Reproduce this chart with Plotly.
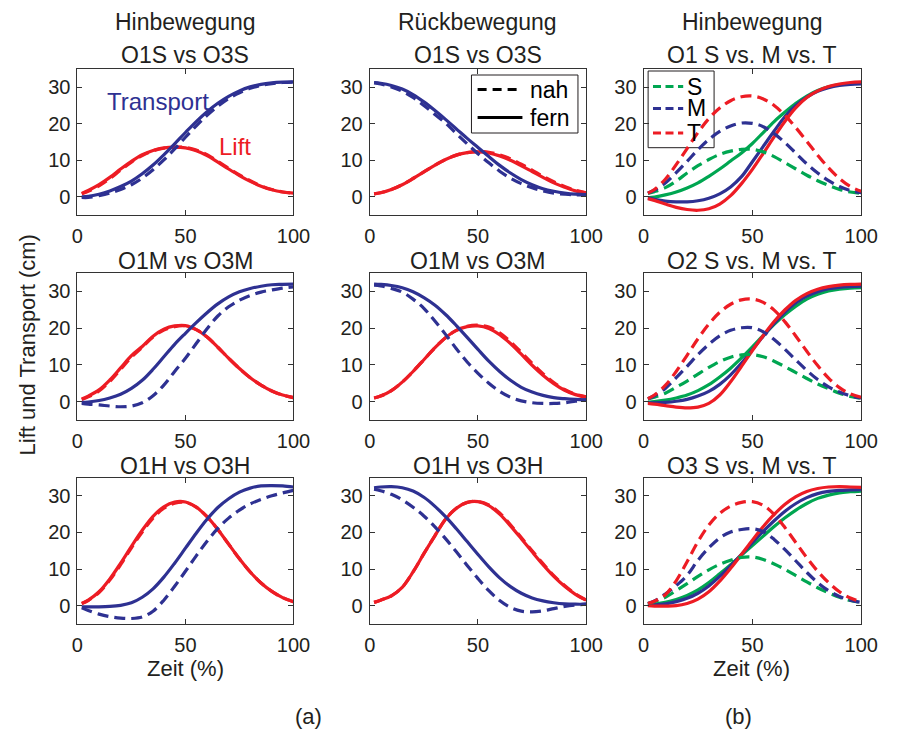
import plotly.graph_objects as go

# Normalised movement time (%)
zeit = [2, 5, 10, 15, 20, 25, 30, 35, 40, 45, 50, 55, 60, 65, 70, 75, 80, 85, 90, 95, 100]

# ---- (a) Hinbewegung / Rückbewegung, nah (dashed) vs fern (solid) ----
# O1S vs O3S, Hinbewegung
hin_s_lift_fern = [0.9, 1.7, 3.3, 5.3, 7.6, 9.7, 11.5, 12.7, 13.4, 13.6, 13.4, 12.6, 11.3, 9.5, 7.6, 5.8, 4.2, 2.9, 1.9, 1.3, 1.0]
hin_s_lift_nah = [0.8, 1.5, 3.0, 5.0, 7.3, 9.5, 11.3, 12.6, 13.3, 13.6, 13.5, 12.8, 11.5, 9.7, 7.8, 6.0, 4.4, 3.0, 2.0, 1.3, 1.0]
hin_s_trans_fern = [0.0, 0.1, 0.7, 1.6, 2.8, 4.3, 6.3, 8.7, 11.5, 14.5, 17.6, 20.6, 23.3, 25.6, 27.5, 29.0, 30.1, 30.8, 31.2, 31.4, 31.5]
hin_s_trans_nah = [-0.2, -0.2, 0.3, 1.0, 2.0, 3.3, 5.1, 7.4, 10.1, 13.1, 16.3, 19.4, 22.3, 24.8, 26.9, 28.5, 29.7, 30.5, 31.0, 31.3, 31.4]

# O1S vs O3S, Rückbewegung
rueck_s_lift_fern = [0.8, 1.1, 2.0, 3.3, 5.0, 6.8, 8.6, 10.2, 11.4, 12.1, 12.3, 12.0, 11.2, 10.0, 8.5, 6.9, 5.3, 3.8, 2.6, 1.6, 1.0]
rueck_s_lift_nah = [0.8, 1.1, 2.0, 3.3, 5.0, 6.8, 8.6, 10.2, 11.4, 12.1, 12.4, 12.2, 11.5, 10.4, 8.9, 7.3, 5.6, 4.1, 2.8, 1.8, 1.1]
rueck_s_trans_fern = [31.3, 31.1, 30.5, 29.5, 28.0, 26.0, 23.7, 21.2, 18.6, 16.0, 13.5, 11.0, 8.6, 6.5, 4.7, 3.3, 2.2, 1.5, 1.0, 0.7, 0.6]
rueck_s_trans_nah = [31.2, 30.9, 30.1, 28.9, 27.2, 25.0, 22.6, 20.2, 17.3, 14.5, 11.8, 9.3, 7.0, 5.1, 3.6, 2.5, 1.6, 1.0, 0.7, 0.5, 0.5]

# O1M vs O3M, Hinbewegung
hin_m_lift_fern = [0.7, 1.5, 3.2, 5.9, 9.2, 12.5, 15.0, 17.8, 19.7, 20.6, 20.7, 19.6, 17.6, 14.8, 11.8, 9.0, 6.5, 4.5, 2.9, 1.8, 1.1]
hin_m_lift_nah = [0.6, 1.3, 2.9, 5.5, 8.8, 12.1, 14.8, 17.6, 19.5, 20.4, 20.6, 19.6, 17.6, 14.8, 11.8, 9.0, 6.5, 4.5, 2.9, 1.8, 1.1]
hin_m_trans_fern = [-0.2, -0.1, 0.3, 1.0, 2.0, 3.6, 5.8, 8.8, 12.2, 15.6, 18.6, 21.5, 24.2, 26.6, 28.5, 29.9, 30.8, 31.4, 31.8, 31.9, 32.0]
hin_m_trans_nah = [-0.5, -0.7, -0.9, -1.2, -1.4, -1.2, -0.3, 1.6, 4.5, 8.2, 11.8, 15.8, 19.8, 23.3, 25.8, 27.6, 28.9, 29.8, 30.4, 30.9, 31.2]

# O1M vs O3M, Rückbewegung
rueck_m_lift_fern = [1.0, 1.5, 3.0, 5.3, 8.2, 11.4, 14.6, 17.4, 19.4, 20.4, 20.6, 19.9, 18.2, 15.8, 12.9, 9.9, 7.2, 4.9, 3.1, 1.9, 1.2]
rueck_m_lift_nah = [1.0, 1.5, 3.0, 5.3, 8.2, 11.4, 14.6, 17.4, 19.4, 20.5, 20.8, 20.3, 18.7, 16.3, 13.4, 10.4, 7.6, 5.2, 3.3, 2.0, 1.3]
rueck_m_trans_fern = [32.0, 31.9, 31.6, 31.0, 29.9, 28.3, 26.3, 23.7, 20.7, 17.5, 14.2, 11.0, 8.2, 5.8, 3.9, 2.6, 1.7, 1.1, 0.8, 0.6, 0.5]
rueck_m_trans_nah = [31.7, 31.5, 30.8, 29.8, 27.9, 25.4, 22.0, 18.3, 14.4, 10.8, 7.7, 5.0, 2.8, 1.2, 0.2, -0.3, -0.5, -0.5, -0.3, 0.1, 0.5]

# O1H vs O3H, Hinbewegung
hin_h_lift_fern = [0.6, 1.5, 3.8, 7.3, 11.6, 16.2, 20.6, 24.4, 27.0, 28.3, 28.3, 26.9, 24.3, 20.8, 16.8, 12.8, 9.2, 6.2, 3.9, 2.2, 1.1]
hin_h_lift_nah = [0.6, 1.4, 3.6, 7.0, 11.2, 15.8, 20.1, 23.9, 26.6, 28.0, 28.2, 26.9, 24.3, 20.8, 16.8, 12.8, 9.2, 6.2, 3.9, 2.2, 1.1]
hin_h_trans_fern = [-0.3, -0.3, -0.3, -0.2, 0.1, 0.8, 2.3, 4.6, 7.8, 11.6, 15.7, 19.8, 23.6, 26.8, 29.2, 31.0, 32.1, 32.7, 32.8, 32.7, 32.4]
hin_h_trans_nah = [-0.6, -1.3, -2.3, -3.0, -3.4, -3.5, -3.1, -1.5, 1.5, 5.3, 9.4, 13.6, 17.6, 21.1, 23.9, 26.1, 27.8, 29.0, 30.0, 30.8, 31.5]

# O1H vs O3H, Rückbewegung
rueck_h_lift_fern = [0.9, 1.5, 2.7, 5.0, 9.2, 14.2, 19.0, 23.6, 26.6, 28.2, 28.4, 27.3, 25.0, 21.8, 18.3, 14.7, 11.2, 8.0, 5.3, 3.1, 1.5]
rueck_h_lift_nah = [0.9, 1.5, 2.7, 5.0, 9.2, 14.2, 19.0, 23.6, 26.6, 28.2, 28.5, 27.5, 25.3, 22.1, 18.6, 15.0, 11.5, 8.2, 5.5, 3.2, 1.5]
rueck_h_trans_fern = [32.2, 32.4, 32.5, 32.2, 31.3, 29.6, 27.2, 24.3, 21.0, 17.5, 14.0, 10.6, 7.6, 5.2, 3.4, 2.1, 1.3, 0.8, 0.5, 0.4, 0.4]
rueck_h_trans_nah = [31.8, 31.4, 30.4, 28.9, 26.9, 24.5, 21.6, 18.3, 14.7, 11.0, 7.4, 4.1, 1.4, -0.5, -1.5, -1.7, -1.4, -0.8, -0.2, 0.2, 0.4]

# ---- (b) Hinbewegung, S vs M vs T (dashed = Lift, solid = Transport) ----
o1_lift_s = [0.9, 1.4, 2.5, 4.3, 6.5, 8.5, 10.2, 11.6, 12.5, 13.0, 13.0, 12.3, 11.0, 9.3, 7.6, 5.9, 4.4, 3.1, 2.0, 1.3, 0.9]
o1_lift_m = [1.0, 1.8, 3.8, 6.6, 9.7, 12.9, 15.7, 17.9, 19.4, 20.2, 20.1, 19.2, 17.3, 14.8, 11.9, 9.0, 6.5, 4.4, 2.8, 1.7, 1.1]
o1_lift_t = [1.0, 2.0, 4.8, 8.8, 13.2, 17.6, 21.4, 24.3, 26.3, 27.4, 27.6, 26.8, 25.0, 22.3, 18.9, 15.2, 11.4, 7.9, 5.0, 2.8, 1.5]
o1_trans_s = [-0.3, -0.1, 0.5, 1.3, 2.4, 3.8, 5.6, 7.6, 9.8, 12.0, 14.6, 17.6, 20.6, 23.2, 25.6, 27.6, 29.1, 30.1, 30.7, 31.0, 31.2]
o1_trans_m = [-0.3, -0.7, -1.2, -1.4, -1.4, -1.1, -0.4, 0.8, 2.7, 5.5, 9.6, 13.8, 18.0, 22.0, 25.0, 27.3, 28.9, 29.9, 30.5, 30.8, 30.9]
o1_trans_t = [-0.5, -1.0, -2.0, -2.9, -3.5, -3.7, -3.3, -2.0, 0.3, 3.6, 7.5, 11.9, 16.4, 20.7, 24.4, 27.2, 29.0, 30.2, 30.9, 31.3, 31.5]

o2_lift_s = [0.7, 1.2, 2.3, 3.9, 5.6, 7.5, 9.3, 10.9, 12.1, 12.7, 12.8, 12.2, 11.0, 9.5, 7.9, 6.3, 4.8, 3.5, 2.3, 1.4, 0.9]
o2_lift_m = [0.8, 1.6, 3.6, 6.5, 9.6, 12.8, 15.6, 17.9, 19.4, 20.1, 20.1, 19.0, 16.9, 14.2, 11.3, 8.5, 6.0, 4.0, 2.6, 1.6, 1.0]
o2_lift_t = [0.8, 1.8, 4.4, 8.2, 12.6, 17.1, 21.1, 24.3, 26.5, 27.7, 27.9, 27.0, 24.9, 21.7, 17.8, 13.7, 9.8, 6.4, 3.8, 2.1, 1.2]
o2_trans_s = [-0.2, 0.0, 0.4, 1.0, 1.8, 3.0, 4.6, 6.7, 9.1, 11.9, 14.9, 18.0, 21.0, 23.7, 26.0, 27.9, 29.2, 30.1, 30.6, 30.9, 31.0]
o2_trans_m = [-0.3, -0.3, -0.2, 0.1, 0.6, 1.5, 2.8, 4.7, 7.3, 10.5, 14.1, 17.8, 21.3, 24.4, 26.9, 28.7, 29.9, 30.7, 31.1, 31.3, 31.4]
o2_trans_t = [-0.5, -0.7, -1.1, -1.5, -1.7, -1.5, -0.5, 1.8, 5.4, 9.6, 13.9, 18.0, 21.8, 25.0, 27.6, 29.4, 30.6, 31.3, 31.7, 31.9, 32.0]

o3_lift_s = [0.6, 1.1, 2.3, 4.1, 6.0, 8.0, 9.8, 11.3, 12.4, 13.2, 13.3, 12.6, 11.4, 9.9, 8.2, 6.5, 4.9, 3.5, 2.3, 1.4, 0.9]
o3_lift_m = [0.6, 1.3, 3.2, 5.5, 8.3, 12.4, 15.8, 18.5, 20.1, 20.8, 21.0, 20.2, 18.1, 15.3, 12.2, 9.1, 6.3, 4.1, 2.5, 1.5, 0.9]
o3_lift_t = [0.6, 1.2, 3.0, 6.8, 12.0, 17.5, 22.0, 25.2, 27.2, 28.2, 28.4, 27.4, 24.9, 21.3, 17.2, 13.1, 9.4, 6.3, 3.8, 2.1, 1.1]
o3_trans_s = [0.2, 0.4, 0.9, 1.7, 2.8, 4.3, 6.3, 8.7, 11.2, 13.8, 16.4, 19.0, 21.6, 24.0, 26.1, 27.9, 29.3, 30.2, 30.8, 31.1, 31.3]
o3_trans_m = [0.1, 0.2, 0.5, 1.1, 2.0, 3.4, 5.4, 8.0, 10.9, 14.0, 17.2, 20.3, 23.2, 25.8, 27.9, 29.5, 30.6, 31.2, 31.5, 31.6, 31.7]
o3_trans_t = [0.0, -0.1, -0.1, 0.0, 0.6, 1.8, 3.8, 6.7, 10.2, 14.0, 17.9, 21.6, 24.9, 27.7, 29.8, 31.2, 32.0, 32.4, 32.5, 32.4, 32.3]

# Panel titles (row by row)
col_heads = ["Hinbewegung", "Rückbewegung", "Hinbewegung"]
panel_titles = ["O1S vs O3S", "O1S vs O3S", "O1 S vs. M vs. T",
                "O1M vs O3M", "O1M vs O3M", "O2 S vs. M vs. T",
                "O1H vs O3H", "O1H vs O3H", "O3 S vs. M vs. T"]
x_ticks = [0, 50, 100]
y_ticks = [0, 10, 20, 30]
style_labels = ["nah", "fern"]
group_labels = ["S", "M", "T"]

BLUE = "#2E3192"
RED = "#ED1C24"
GREEN = "#00A651"
INK = "#231F20"
FONT = "Liberation Sans, Arial, sans-serif"
DASH = "11px,6px"        # dashed curves
DASH_KEY = "8px,4.5px"   # dashed legend samples
LW = 3.2

W, H = 898, 731
col_px = [(73.3, 295.0), (373.3, 595.5), (654.3, 877.7)]
row_px = [(69.0, 215.0), (273.0, 420.0), (477.5, 624.0)]

fig = go.Figure()

nah_fern_panels = {
    1: (hin_s_lift_fern, hin_s_lift_nah, hin_s_trans_fern, hin_s_trans_nah),
    2: (rueck_s_lift_fern, rueck_s_lift_nah, rueck_s_trans_fern, rueck_s_trans_nah),
    4: (hin_m_lift_fern, hin_m_lift_nah, hin_m_trans_fern, hin_m_trans_nah),
    5: (rueck_m_lift_fern, rueck_m_lift_nah, rueck_m_trans_fern, rueck_m_trans_nah),
    7: (hin_h_lift_fern, hin_h_lift_nah, hin_h_trans_fern, hin_h_trans_nah),
    8: (rueck_h_lift_fern, rueck_h_lift_nah, rueck_h_trans_fern, rueck_h_trans_nah),
}
smt_panels = {
    3: (o1_lift_s, o1_lift_m, o1_lift_t, o1_trans_s, o1_trans_m, o1_trans_t),
    6: (o2_lift_s, o2_lift_m, o2_lift_t, o2_trans_s, o2_trans_m, o2_trans_t),
    9: (o3_lift_s, o3_lift_m, o3_lift_t, o3_trans_s, o3_trans_m, o3_trans_t),
}


def sfx(idx):
    return "" if idx == 1 else str(idx)


def add_line(idx, y, color, dash):
    fig.add_trace(go.Scatter(
        x=zeit, y=y, mode="lines", showlegend=False, hoverinfo="skip",
        line=dict(color=color, width=LW, dash=dash, shape="spline", smoothing=1.0),
        xaxis="x" + sfx(idx), yaxis="y" + sfx(idx)))


for idx, (lf, ln, tf, tn) in nah_fern_panels.items():
    add_line(idx, ln, RED, DASH)
    add_line(idx, lf, RED, "solid")
    add_line(idx, tn, BLUE, DASH)
    add_line(idx, tf, BLUE, "solid")

for idx, (ls, lm, lt, ts, tm, tt) in smt_panels.items():
    add_line(idx, ts, GREEN, "solid")
    add_line(idx, tm, BLUE, "solid")
    add_line(idx, tt, RED, "solid")
    add_line(idx, ls, GREEN, DASH)
    add_line(idx, lm, BLUE, DASH)
    add_line(idx, lt, RED, DASH)

layout = {}
for r in range(3):
    for c in range(3):
        idx = r * 3 + c + 1
        x0, x1 = col_px[c]
        y0, y1 = row_px[r]
        common = dict(showline=True, linecolor="#333333", linewidth=1, mirror="ticks",
                      ticks="inside", ticklen=5, tickcolor="#333333", tickwidth=1,
                      showgrid=False, zeroline=False,
                      tickfont=dict(family=FONT, size=20, color=INK))
        layout["xaxis" + sfx(idx)] = dict(domain=[x0 / W, x1 / W], anchor="y" + sfx(idx),
                                          range=[0, 100], tickvals=x_ticks,
                                          ticklabelstandoff=3, **common)
        layout["yaxis" + sfx(idx)] = dict(domain=[1 - y1 / H, 1 - y0 / H], anchor="x" + sfx(idx),
                                          range=[-5, 35], tickvals=y_ticks,
                                          ticklabelstandoff=2, **common)


def px_x(v):
    return v / W


def px_y(v):
    return 1 - v / H


annotations = []
shapes = []
col_cx = [(a + b) / 2 / W for a, b in col_px]
title_font = dict(family=FONT, size=23, color=INK)
for c in range(3):
    annotations.append(dict(text=col_heads[c], x=col_cx[c], y=px_y(22), xref="paper", yref="paper",
                            showarrow=False, xanchor="center", yanchor="middle", font=title_font,
                            borderpad=0))
row_title_px = [55, 261, 466]
for r in range(3):
    for c in range(3):
        annotations.append(dict(text=panel_titles[r * 3 + c], x=col_cx[c], y=px_y(row_title_px[r]),
                                xref="paper", yref="paper", showarrow=False,
                                xanchor="center", yanchor="middle", font=title_font, borderpad=0))

label_font = dict(family=FONT, size=22, color=INK)
annotations += [
    dict(text="Transport", x=37.3, y=26, xref="x", yref="y", showarrow=False,
         font=dict(family=FONT, size=24, color=BLUE)),
    dict(text="Lift", x=72.9, y=13.7, xref="x", yref="y", showarrow=False,
         font=dict(family=FONT, size=24, color=RED)),
    dict(text="Lift und Transport (cm)", x=px_x(23), y=px_y(345), xref="paper", yref="paper",
         showarrow=False, textangle=-90, xanchor="center", yanchor="middle", font=label_font),
    dict(text="Zeit (%)", x=col_cx[0], y=px_y(668), xref="paper", yref="paper", showarrow=False,
         xanchor="center", yanchor="middle", font=label_font),
    dict(text="Zeit (%)", x=px_x(765), y=px_y(668), xref="paper", yref="paper", showarrow=False,
         xanchor="center", yanchor="middle", font=label_font),
    dict(text="(a)", x=px_x(310), y=px_y(716), xref="paper", yref="paper", showarrow=False,
         xanchor="center", yanchor="middle", font=label_font),
    dict(text="(b)", x=px_x(752), y=px_y(716), xref="paper", yref="paper", showarrow=False,
         xanchor="center", yanchor="middle", font=label_font),
]

# legend box: line style (nah / fern) in the Rückbewegung O1S panel
legend_font = dict(family=FONT, size=23, color="black")
shapes.append(dict(type="rect", xref="paper", yref="paper",
                   x0=px_x(477.7), x1=px_x(587), y0=px_y(133), y1=px_y(75),
                   line=dict(color=INK, width=1), fillcolor="white", layer="above"))
for label, dash, yc in zip(style_labels, ["9px,6px", "solid"], [89.5, 117.5]):
    shapes.append(dict(type="line", xref="paper", yref="paper",
                       x0=px_x(484), x1=px_x(530), y0=px_y(yc), y1=px_y(yc),
                       line=dict(color="black", width=LW, dash=dash), layer="above"))
    annotations.append(dict(text=label, x=px_x(537), y=px_y(yc), xref="paper", yref="paper",
                            showarrow=False, xanchor="left", yanchor="middle", font=legend_font,
                            borderpad=0))

# legend box: groups S / M / T (Lift, dashed)
shapes.append(dict(type="rect", xref="paper", yref="paper",
                   x0=px_x(659), x1=px_x(726.7), y0=px_y(147.7), y1=px_y(71),
                   line=dict(color=INK, width=1), fillcolor="rgba(0,0,0,0)", layer="below"))
for label, color, yc in zip(group_labels, [GREEN, BLUE, RED], [86.5, 108.5, 133]):
    shapes.append(dict(type="line", xref="paper", yref="paper",
                       x0=px_x(664), x1=px_x(695), y0=px_y(yc), y1=px_y(yc),
                       line=dict(color=color, width=LW, dash=DASH_KEY), layer="above"))
    annotations.append(dict(text=label, x=px_x(698), y=px_y(yc), xref="paper", yref="paper",
                            showarrow=False, xanchor="left", yanchor="middle", font=legend_font,
                            borderpad=0))

fig.update_layout(
    width=W, height=H, margin=dict(l=0, r=0, t=0, b=0),
    paper_bgcolor="white", plot_bgcolor="white",
    showlegend=False,
    annotations=annotations, shapes=shapes,
    **layout,
)

fig.write_html("out.html")
